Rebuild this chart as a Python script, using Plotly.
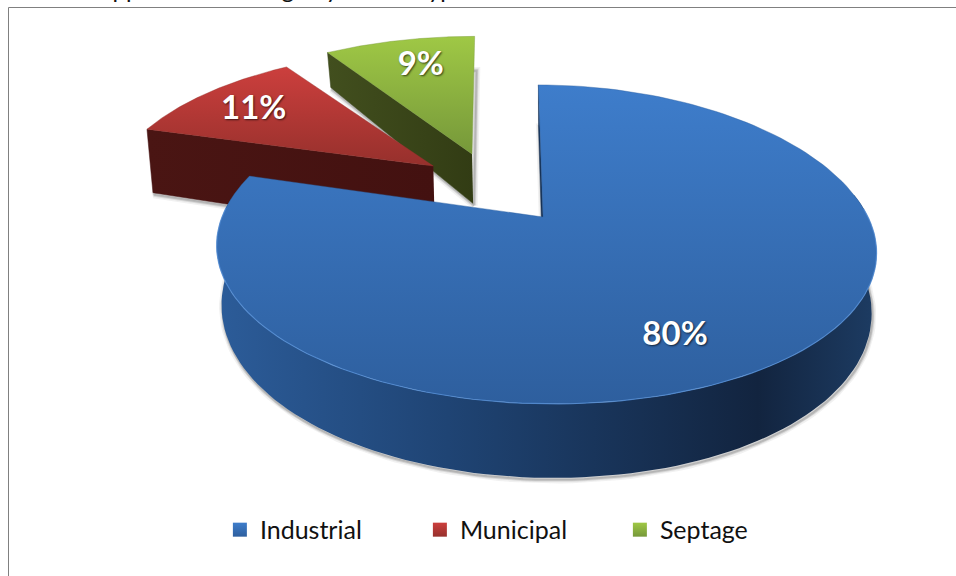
import numpy as np
import plotly.graph_objects as go

categories = ["Industrial", "Municipal", "Septage"]
shares = [80, 11, 9]
labels = ["80%", "11%", "9%"]
clipped_title = "Land Application Acreage by Waste Type"

# ---- styling / camera constants (not data) ----
X0, Y0, A, B, K, SKEW = 545.0, 217.0, 325.0, 154.8, 0.172, 0.05
APEX = [(-0.006, 0.0), (-0.356, 0.349), (-0.231, 0.4376)]
ARC_OFFSET = [(0.0, 0.0), (-0.391, 0.319), (-0.236, 0.43)]
RADIUS = [1.0, 1.0, 1.03]
BULGE = [5.0, 0.0, 0.0]
DEPTH = [1.0, 1.37, 1.0]
TOP_COL = [["#3e7dcb", "#2e5f9e"], ["#cc3f3d", "#96302c"], ["#9fc845", "#76983a"]]
WALL_COL = [[(0, "#2c5c99"), (0.35, "#1f4474"), (0.82, "#12243f"), (1, "#1d3c63")],
            [(0, "#4a1513"), (1, "#431110")],
            [(0, "#424f1e"), (1, "#323c14")]]
CUT_COL = ["#173256", "#431110", "#38451a"]
LABEL_R = [0.75, 0.62, 0.62]
LABEL_SHIFT = [(-33, 15), (-42, -6), (-6, -14)]


def project(X, Z, bulge=0.0):
    d = 1 + K * Z
    sy = Y0 - B * Z / d + bulge * (1 - np.minimum(Z ** 2, 1))
    sx = X0 + A * X / d + SKEW * (sy - Y0)
    return sx, sy


def lower(X, Z, depth, bulge=0.0):
    sx, sy = project(X, Z, bulge)
    h = (57 - 17 * Z) * depth
    return X0 + (sx - X0) * 0.985, sy + h


fractions = np.array(shares, float) / sum(shares)
edges = np.concatenate([[0], np.cumsum(fractions)]) * 2 * np.pi

fig = go.Figure()


def poly(x, y, **kw):
    fig.add_trace(go.Scatter(x=list(x), y=list(y), mode="lines", showlegend=False,
                             hoverinfo="skip", **kw))


def arc(i):
    t = np.linspace(edges[i], edges[i + 1], 160)
    ox, oz = ARC_OFFSET[i]
    return ox + RADIUS[i] * np.sin(t), oz + RADIUS[i] * np.cos(t)


# soft shadows beneath every solid
for i in [2, 1, 0]:
    X, Z = arc(i)
    ax, az = APEX[i]
    aX, aY = lower(ax, az, DEPTH[i])
    bx, by = lower(X, Z, DEPTH[i], BULGE[i])
    for w, a in [(7, 0.07), (4, 0.12), (2, 0.2)]:
        poly(np.r_[aX, bx, aX] + 1, np.r_[aY, by, aY] + 2,
             line=dict(color=f"rgba(60,60,60,{a})", width=w),
             fill="toself", fillcolor="rgba(60,60,60,0.02)")

# solids: back to front
for i in [2, 1, 0]:
    X, Z = arc(i)
    ax, az = APEX[i]
    a_top = project(ax, az)
    a_low = lower(ax, az, DEPTH[i])

    # cut face on the clockwise-first side
    tx, ty = project(X[0], Z[0], BULGE[i])
    bx, by = lower(X[0], Z[0], DEPTH[i], BULGE[i])
    if i == 0:
        cut = dict(fillcolor=CUT_COL[i])
    else:
        cut = dict(fillgradient=dict(type="horizontal", colorscale=WALL_COL[i]))
    poly([a_top[0], tx, bx, a_low[0]], [a_top[1], ty, by, a_low[1]], fill="toself",
         line=dict(color=CUT_COL[i], width=0.5), **cut)

    # curved outer wall (only the part facing the viewer)
    if i == 0:
        mask = (Z < 0.18)
        tx, ty = project(X[mask], Z[mask], BULGE[i])
        bx, by = lower(X[mask], Z[mask], DEPTH[i], BULGE[i])
        poly(np.r_[tx, bx[::-1]], np.r_[ty, by[::-1]], fill="toself",
             line=dict(color="rgba(0,0,0,0)", width=0),
             fillgradient=dict(type="horizontal", colorscale=WALL_COL[i]))

    # top face (reversed y axis: the gradient runs from the bottom of the page upward)
    tx, ty = project(X, Z, BULGE[i])
    poly(np.r_[a_top[0], tx, a_top[0]], np.r_[a_top[1], ty, a_top[1]], fill="toself",
         line=dict(color=TOP_COL[i][1], width=0.4),
         fillgradient=dict(type="vertical",
                           colorscale=[(0, TOP_COL[i][1]), (1, TOP_COL[i][0])]))

# light rim on the front of the large slice
X, Z = arc(0)
m = Z < 0.1
rx, ry = project(X[m], Z[m], BULGE[0])
poly(rx, ry, line=dict(color="rgba(90,150,225,0.65)", width=1.2))

# percentage labels
for i in range(3):
    mid = (edges[i] + edges[i + 1]) / 2
    ax, az = APEX[i]
    sx, sy = project(ax + LABEL_R[i] * np.sin(mid), az + LABEL_R[i] * np.cos(mid))
    fig.add_trace(go.Scatter(
        x=[sx + LABEL_SHIFT[i][0]], y=[sy + LABEL_SHIFT[i][1]], mode="text", text=[labels[i]],
        textposition="middle center", showlegend=False, hoverinfo="skip",
        textfont=dict(family="Lato", size=33, color="white", weight="bold",
                      shadow="1px 1px 2px rgba(0,0,0,0.65)")))

# legend keys
for i, c in enumerate(categories):
    fig.add_trace(go.Scatter(
        x=[None], y=[None], mode="markers", name=c,
        marker=dict(symbol="square", size=14, color=TOP_COL[i][0],
                    gradient=dict(type="vertical", color=TOP_COL[i][1]))))

fig.update_layout(
    width=956, height=576, autosize=False,
    margin=dict(l=0, r=0, t=0, b=0, autoexpand=False),
    paper_bgcolor="white", plot_bgcolor="white",
    xaxis=dict(range=[0, 956], visible=False, fixedrange=True),
    yaxis=dict(range=[576, 0], visible=False, fixedrange=True),
    legend=dict(orientation="h", x=0.23, xanchor="left", y=0.08, yanchor="middle",
                entrywidth=155, entrywidthmode="pixels", bgcolor="rgba(0,0,0,0)",
                font=dict(family="Lato", size=25, color="#111111"),
                itemclick=False, itemdoubleclick=False),
    annotations=[dict(text=clipped_title, xref="x", yref="y", x=38, y=5,
                      xanchor="left", yanchor="bottom", showarrow=False,
                      font=dict(family="Lato", size=24, color="#111111"))],
    shapes=[dict(type="line", xref="x", yref="y", x0=8.5, x1=956, y0=7.5, y1=7.5,
                 line=dict(color="#808080", width=1)),
            dict(type="line", xref="x", yref="y", x0=8.5, x1=8.5, y0=7.5, y1=576,
                 line=dict(color="#808080", width=1))],
)

fig.write_html("out.html", config={"displayModeBar": False},
               post_script="document.body.style.margin='0';")
